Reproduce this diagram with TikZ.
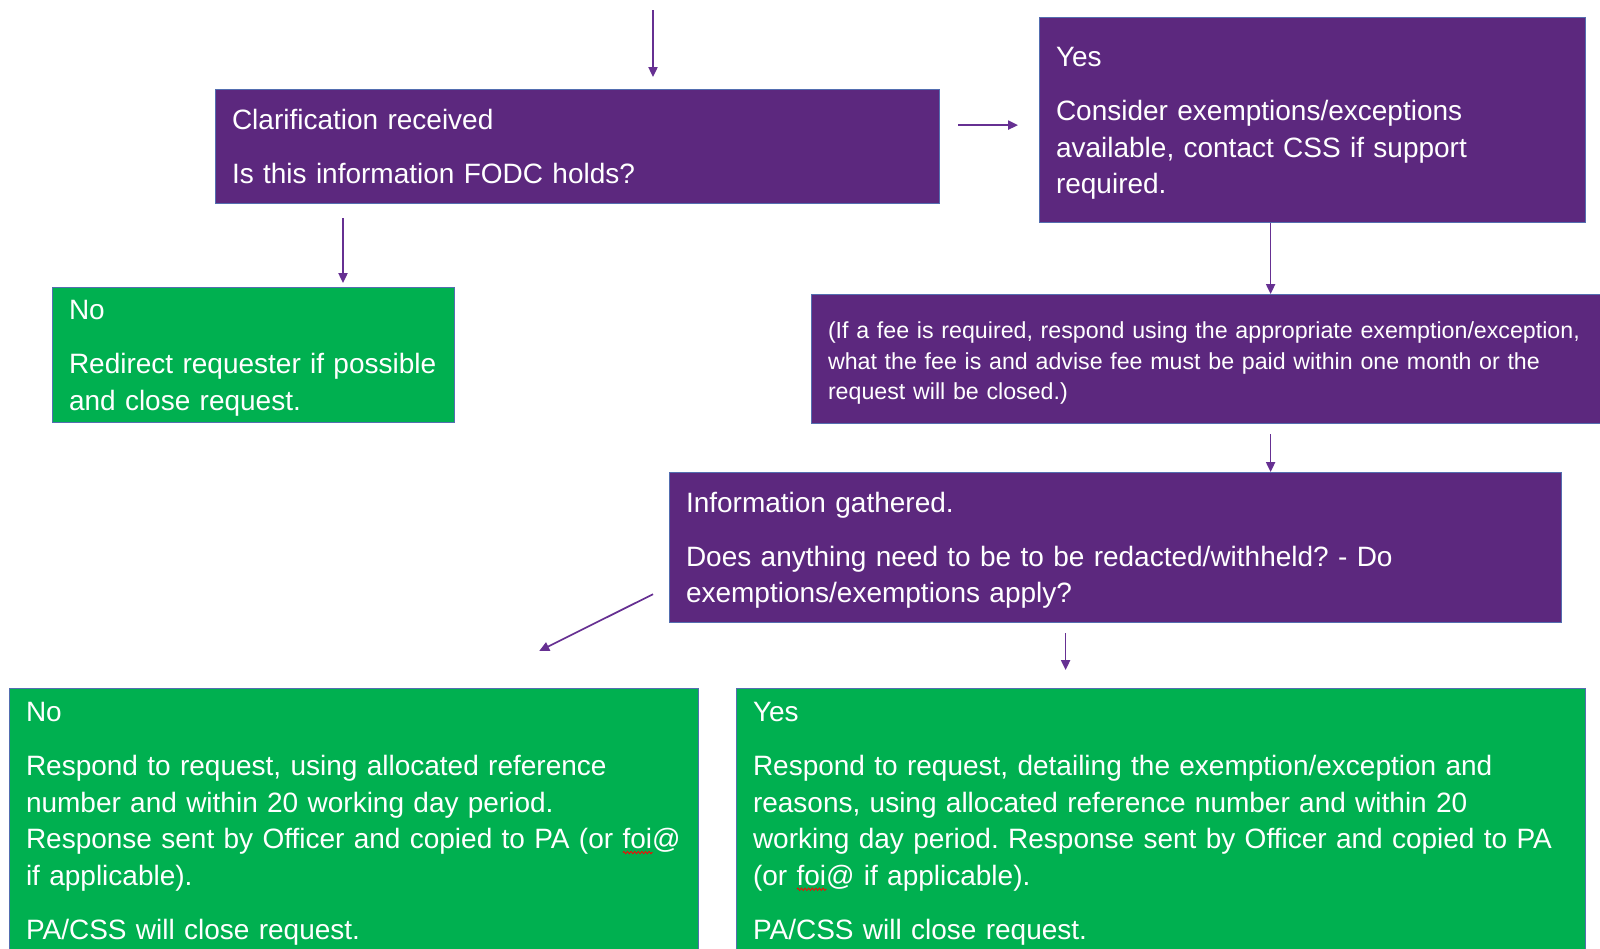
\documentclass[tikz,border=0pt]{standalone}
\usepackage{fontspec}
\setmainfont{Liberation Sans}
\usetikzlibrary{arrows.meta,decorations.pathmorphing}

\definecolor{fodcpurple}{RGB}{92,40,126}
\definecolor{fodcgreen}{RGB}{0,176,80}
\definecolor{fodcedge}{RGB}{84,110,176}
\definecolor{fodcarrow}{RGB}{102,48,146}

% struts that fix first and last line of each box
\newcommand{\boxtop}{\rule{0pt}{13pt}}
\newcommand{\boxbot}{\rule[-3pt]{0pt}{3pt}}
% red spell-check wave under a word
\newsavebox{\spellbox}
\newcommand{\spellmark}[1]{\sbox{\spellbox}{#1}%
  \rlap{\raisebox{-2.6pt}{\tikz\draw[red, line width=0.4pt,
    decorate, decoration={zigzag, amplitude=0.6pt, segment length=1.8pt}]
    (0pt,0pt) -- (\wd\spellbox,0pt);}}\usebox{\spellbox}}
\frenchspacing

\begin{document}
\begin{tikzpicture}[x=0.5pt, y=-0.5pt,
    box/.style={draw=fodcedge, line width=0.6pt, anchor=north west, align=left,
      text=white, inner xsep=8.2pt, inner ysep=0pt, font=\fontsize{14}{18.35}\selectfont},
    pbox/.style={box, fill=fodcpurple},
    gbox/.style={box, fill=fodcgreen},
    flow/.style={draw=fodcarrow, line width=0.85pt, -{Triangle[length=5pt,width=4.6pt]}}]
  \useasboundingbox (0,0) rectangle (1600,948);
  \clip (0,0) rectangle (1600,948);

  \node [pbox, text width=345.6pt, minimum height=57pt] (clar) at (215,89)
    {\boxtop Clarification received\\[8.65pt]
     Is this information FODC holds?\boxbot};
  \node [pbox, text width=256.6pt, minimum height=102.5pt] (yesex) at (1039,17)
    {\boxtop Yes\\[8.65pt]
     Consider exemptions/exceptions\\
     available, contact CSS if support\\
     required.\boxbot};
  \node [gbox, text width=184.6pt, minimum height=67.5pt] (redirect) at (52,287)
    {\boxtop No\\[8.65pt]
     Redirect requester if possible\\
     and close request.\boxbot};
  \node [pbox, text width=383.1pt, minimum height=64.5pt,
    font=\fontsize{11.6}{15.3}\selectfont] (fee) at (811,294)
    {\boxtop(If a fee is required, respond using the appropriate exemption/exception,\\
     what the fee is and advise fee must be paid within one month or the\\
     request will be closed.)\boxbot};
  \node [pbox, text width=429.6pt, minimum height=75pt] (gather) at (669,472)
    {\boxtop Information gathered.\\[8.65pt]
     Does anything need to be to be redacted/withheld? - Do\\
     exemptions/exemptions apply?\boxbot};
  \node [gbox, text width=328.1pt, minimum height=132pt] (respno) at (9,688)
    {\boxtop No\\[8.65pt]
     Respond to request, using allocated reference\\
     number and within 20 working day period.\\
     Response sent by Officer and copied to PA (or \spellmark{foi}@\\
     if applicable).\\[8.65pt]
     PA/CSS will close request.\boxbot};
  \node [gbox, text width=408.1pt, minimum height=132pt] (respyes) at (736,688)
    {\boxtop Yes\\[8.65pt]
     Respond to request, detailing the exemption/exception and\\
     reasons, using allocated reference number and within 20\\
     working day period. Response sent by Officer and copied to PA\\
     (or \spellmark{foi}@ if applicable).\\[8.65pt]
     PA/CSS will close request.\boxbot};

  \coordinate (start) at (653,10);
  \draw [flow, shorten >=6pt] (start) -- (start |- clar.north);
  \draw [flow, shorten <=7pt, shorten >=2pt] ([xshift=64pt]clar.south west)
    -- ([xshift=64pt]clar.south west |- redirect.north);
  \draw [flow, shorten <=9pt, shorten >=10.5pt] ([yshift=10.75pt]clar.east)
    -- ([yshift=10.75pt]clar.east -| yesex.west);
  \draw [flow] ([xshift=-21pt]yesex.south) -- ([xshift=-21pt]yesex.south |- fee.north);
  \draw [flow, shorten <=5pt] ([xshift=-21pt]yesex.south |- fee.south)
    -- ([xshift=-21pt]yesex.south |- gather.north);
  \draw [flow] ([xshift=-8pt,yshift=14.5pt]gather.south west)
    -- ([xshift=-80pt,yshift=18.5pt]respno.north east);
  \draw [flow, shorten <=5pt, shorten >=9pt] ([xshift=-25pt]gather.south)
    -- ([xshift=-25pt]gather.south |- respyes.north);
\end{tikzpicture}
\end{document}
